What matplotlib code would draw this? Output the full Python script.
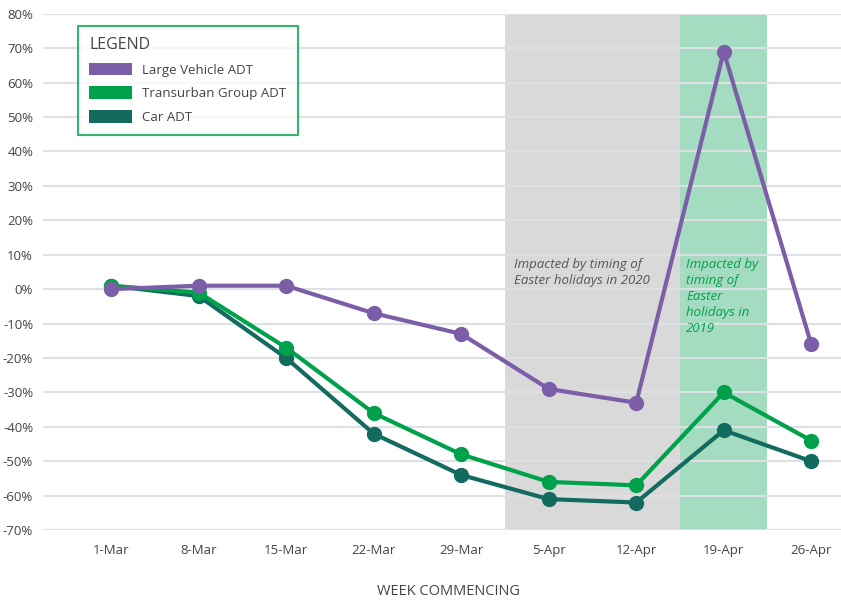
import matplotlib.pyplot as plt
from matplotlib.patches import Patch

plt.rcParams['font.family'] = ['Open Sans', 'DejaVu Sans']
plt.rcParams['font.size'] = 10

# week commencing labels
weeks = ["1-Mar", "8-Mar", "15-Mar", "22-Mar", "29-Mar", "5-Apr", "12-Apr", "19-Apr", "26-Apr"]

# percentage change vs prior year
large_vehicle = [0, 1, 1, -7, -13, -29, -33, 69, -16]
transurban = [1, -1, -17, -36, -48, -56, -57, -30, -44]
car = [1, -2, -20, -42, -54, -61, -62, -41, -50]

yticks = list(range(-70, 81, 10))

c_purple = '#7b5ea7'
c_green = '#00a14b'
c_teal = '#136b5f'

fig = plt.figure(figsize=(8.41, 6.01), dpi=100)
ax = fig.add_axes([0.051, 0.118, 0.949, 0.859])

x = list(range(len(weeks)))

# shaded easter periods
ax.axvspan(4.5, 6.5, color='#d9d9d9', zorder=0, lw=0)
ax.axvspan(6.5, 7.5, color='#a3dcc0', zorder=0, lw=0)

for y in yticks:
    ax.axhline(y, color='#dde1e4', lw=1.5, zorder=1)

ax.plot(x, car, color=c_teal, lw=3, marker='o', ms=10, zorder=3)
ax.plot(x, transurban, color=c_green, lw=3, marker='o', ms=10, zorder=4)
ax.plot(x, large_vehicle, color=c_purple, lw=3, marker='o', ms=10, zorder=5)

ax.text(4.6, 9, "Impacted by timing of\nEaster holidays in 2020", style='italic',
        color='#555555', fontsize=9.5, va='top', ha='left', linespacing=1.3, zorder=2)
ax.text(6.57, 9, "Impacted by\ntiming of\nEaster\nholidays in\n2019", style='italic',
        color='#00a14b', fontsize=9.5, va='top', ha='left', linespacing=1.3, zorder=2)

ax.set_xlim(-0.78, 8.34)
ax.set_ylim(-70, 80)
ax.set_xticks(x)
ax.set_xticklabels(weeks, color='#444444', fontsize=9.5)
ax.set_yticks(yticks)
ax.set_yticklabels([f"{v}%" for v in yticks], color='#444444', fontsize=9.5)
ax.tick_params(axis='y', length=0, pad=7)
ax.tick_params(axis='x', length=0, pad=10)
for s in ax.spines.values():
    s.set_visible(False)

fig.text(0.533, 0.015, "WEEK COMMENCING", color='#444444', fontsize=10.5,
         ha='center', va='center')

handles = [Patch(facecolor=c_purple, label='Large Vehicle ADT'),
           Patch(facecolor=c_green, label='Transurban Group ADT'),
           Patch(facecolor=c_teal, label='Car ADT')]
leg = ax.legend(handles=handles, title='LEGEND', loc='upper left',
                bbox_to_anchor=(0.036, 0.99), frameon=True, fancybox=False,
                edgecolor=c_green, fontsize=9.5, title_fontsize=11.5,
                handlelength=3.2, handleheight=1.1, borderpad=0.85,
                labelspacing=0.75, alignment='left')
leg.get_frame().set_linewidth(1.5)
for t in leg.get_texts():
    t.set_color('#444444')
leg.get_title().set_color('#444444')
leg.set_zorder(10)

fig.savefig('out.png', dpi=100)
